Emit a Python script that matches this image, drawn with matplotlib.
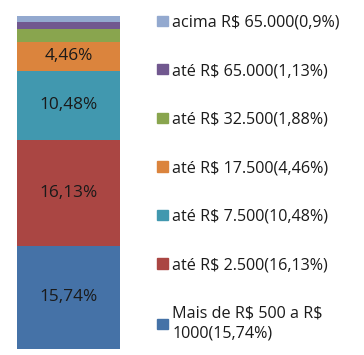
import numpy as np
import matplotlib
matplotlib.use("Agg")
import matplotlib.pyplot as plt
from matplotlib.patches import Patch

# data (bottom to top)
labels = ["Mais de R$ 500 a R$\n1000(15,74%)", "até R$ 2.500(16,13%)", "até R$ 7.500(10,48%)",
          "até R$ 17.500(4,46%)", "até R$ 32.500(1,88%)", "até R$ 65.000(1,13%)",
          "acima R$ 65.000(0,9%)"]
values = [15.74, 16.13, 10.48, 4.46, 1.88, 1.13, 0.9]
bar_text = ["15,74%", "16,13%", "10,48%", "4,46%", "", "", ""]
colors = ["#4572A7", "#AA4643", "#4198AF", "#DB843D", "#89A54E", "#71588F", "#93A9CF"]

plt.rcParams['font.family'] = ['Open Sans', 'DejaVu Sans']
plt.rcParams['text.parse_math'] = False

fig = plt.figure(figsize=(3.64, 3.55), dpi=100)
ax = fig.add_axes([17/364, 6/355, 103/364, 333/355])

bottom = 0
for v, c, t in zip(values, colors, bar_text):
    ax.bar(0, v, bottom=bottom, width=1, color=c)
    if t:
        ax.text(0, bottom + v/2, t, ha="center", va="center", fontsize=12.4, color="#1a1a1a")
    bottom += v

ax.set_xlim(-0.5, 0.5)
ax.set_ylim(0, bottom)
ax.axis("off")

handles = [Patch(color=c) for c in colors]
leg = fig.legend(handles[::-1], labels[::-1], loc="upper left", bbox_to_anchor=(142/364, 1.0),
                 frameon=False, fontsize=11.6, labelspacing=2.02, handlelength=0.73,
                 handleheight=0.6, handletextpad=0.25, borderaxespad=0.5,
                 labelcolor="#1a1a1a")
for t in leg.get_texts():
    t.set_linespacing(1.35)

fig.savefig("out.png", dpi=100)
